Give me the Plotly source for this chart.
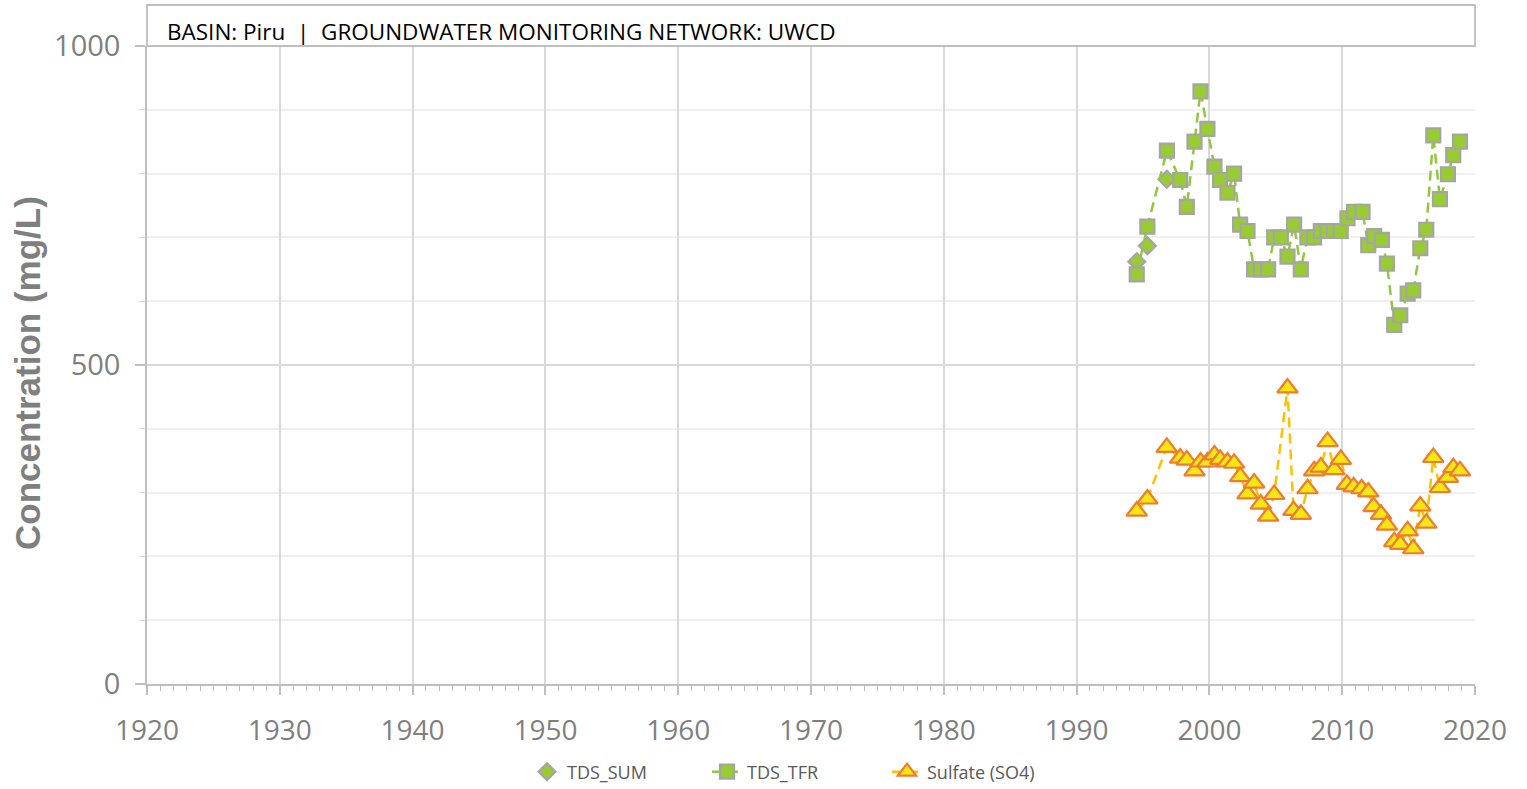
import plotly.graph_objects as go

# ---- data ----
tds_sum_year = [1994.53, 1995.33, 1996.80]
tds_sum_val = [662, 687, 791]

tds_tfr_year = [1994.53, 1995.33, 1996.80, 1997.80, 1998.30, 1998.88, 1999.33, 1999.85,
                2000.38, 2000.80, 2001.36, 2001.86, 2002.31, 2002.87, 2003.37, 2003.87,
                2004.42, 2004.88, 2005.38, 2005.88, 2006.38, 2006.88, 2007.38, 2007.88,
                2008.39, 2008.89, 2009.39, 2009.89, 2010.40, 2010.90, 2011.53, 2011.96,
                2012.41, 2012.99, 2013.37, 2013.92, 2014.37, 2014.93, 2015.35, 2015.88,
                2016.33, 2016.86, 2017.36, 2017.96, 2018.36, 2018.87]
tds_tfr_val = [642, 717, 836, 790, 748, 850, 929, 870,
               811, 790, 770, 800, 720, 710, 650, 650,
               650, 700, 700, 670, 720, 650, 700, 700,
               710, 710, 710, 710, 730, 740, 740, 688,
               702, 696, 659, 563, 578, 612, 617, 683,
               712, 860, 760, 799, 829, 850]

so4_year = [1994.53, 1995.33, 1996.79, 1997.80, 1998.30, 1998.88, 1999.33, 1999.85,
            2000.38, 2000.81, 2001.36, 2001.86, 2002.32, 2002.87, 2003.37, 2003.87,
            2004.42, 2004.88, 2005.88, 2006.33, 2006.89, 2007.39, 2007.89, 2008.39,
            2008.90, 2009.40, 2009.90, 2010.35, 2010.86, 2011.46, 2011.96, 2012.36,
            2012.92, 2013.37, 2013.92, 2014.37, 2014.93, 2015.35, 2015.88, 2016.33,
            2016.86, 2017.36, 2017.96, 2018.37, 2018.87]
so4_val = [271, 290, 371, 354, 351, 334, 348, 348,
           359, 352, 348, 346, 325, 298, 315, 282,
           263, 297, 464, 272, 266, 306, 334, 340,
           380, 336, 352, 313, 309, 306, 301, 278,
           266, 249, 223, 219, 240, 212, 279, 252,
           355, 308, 324, 339, 334]

x_ticks = [1920, 1930, 1940, 1950, 1960, 1970, 1980, 1990, 2000, 2010, 2020]
y_ticks = [0, 500, 1000]
header_text = "BASIN: Piru  |  GROUNDWATER MONITORING NETWORK: UWCD"

W, H = 1527, 789
L, R, T, B = 147, 52, 46, 105
plot_h = H - T - B
plot_w = W - L - R

fig = go.Figure()

fig.add_trace(go.Scatter(
    x=tds_sum_year, y=tds_sum_val, mode="markers", name="TDS_SUM",
    marker=dict(symbol="diamond", size=13, color="#99CC33",
                line=dict(color="#A5A5A5", width=2.2)),
))
fig.add_trace(go.Scatter(
    x=tds_tfr_year, y=tds_tfr_val, mode="lines+markers", name="TDS_TFR",
    line=dict(color="#92C83E", width=2.5, dash="10px,6px"),
    marker=dict(symbol="square", size=14, color="#99CC33",
                line=dict(color="#A5A5A5", width=2.2)),
))
fig.add_trace(go.Scatter(
    x=so4_year, y=so4_val, mode="lines+markers", name="Sulfate (SO4)",
    line=dict(color="#FFC000", width=2.5, dash="10px,6px"),
    marker=dict(symbol="triangle-up", size=18, color="#F5E614",
                line=dict(color="#ED7D31", width=2.2)),
))

fig.update_layout(
    width=W, height=H,
    margin=dict(l=L, r=R, t=T, b=B, autoexpand=False),
    paper_bgcolor="white", plot_bgcolor="white",
    font=dict(family="Open Sans", color="#7F7F7F"),
    showlegend=True,
    legend=dict(orientation="h", xref="container", yref="container",
                x=797 / W, xanchor="center",
                y=(H - 772) / H, yanchor="middle",
                font=dict(size=18, color="#595959"),
                entrywidth=135, entrywidthmode="pixels",
                tracegroupgap=0),
    xaxis=dict(
        range=[1920, 2020], tickmode="array", tickvals=x_ticks,
        ticktext=[str(v) for v in x_ticks],
        showgrid=True, gridcolor="#D9D9D9", gridwidth=1.5,
        showline=True, linecolor="#BFBFBF", linewidth=1.5,
        ticks="outside", ticklen=9, tickcolor="#BFBFBF", tickwidth=1.5,
        tickfont=dict(size=28, color="#7F7F7F"), ticklabelstandoff=12,
        minor=dict(dtick=1, ticks="outside", ticklen=5, tickcolor="#BFBFBF",
                   tickwidth=1, showgrid=False),
        zeroline=False, fixedrange=True, automargin=False,
    ),
    yaxis=dict(
        range=[0, 1000], tickmode="array", tickvals=y_ticks,
        ticktext=[str(v) for v in y_ticks],
        showgrid=True, gridcolor="#D9D9D9", gridwidth=1.5,
        showline=True, linecolor="#BFBFBF", linewidth=1.5,
        ticks="outside", ticklen=10, tickcolor="#BFBFBF", tickwidth=1.5,
        tickfont=dict(size=29, color="#7F7F7F"), ticklabelstandoff=9,
        minor=dict(dtick=100, ticks="outside", ticklen=6, tickcolor="#D9D9D9",
                   tickwidth=1, showgrid=True, gridcolor="#F0F0F0", gridwidth=1.5),
        zeroline=False, fixedrange=True, automargin=False,
    ),
)

# header box above the plot area
fig.add_shape(type="rect", xref="paper", yref="paper", x0=0, x1=1,
              y0=1, y1=1 + 41 / plot_h, line=dict(color="#BFBFBF", width=1.8),
              fillcolor="rgba(0,0,0,0)", layer="above")
fig.add_annotation(text=header_text, xref="paper", yref="paper",
                   x=(165 - L) / plot_w, y=1 + 15 / plot_h,
                   xanchor="left", yanchor="middle", showarrow=False,
                   font=dict(family="Open Sans", size=22.5, color="#000000"))
# y-axis title
fig.add_annotation(text="<b>Concentration (mg/L)</b>", xref="paper", yref="paper",
                   x=(27 - L) / plot_w, y=(H - B - 373) / plot_h,
                   xanchor="center", yanchor="middle", textangle=-90, showarrow=False,
                   font=dict(family="Liberation Sans", size=35, color="#7F7F7F"))

fig.write_html("out.html", config={"displayModeBar": False},
               post_script="document.body.style.margin='0';")
